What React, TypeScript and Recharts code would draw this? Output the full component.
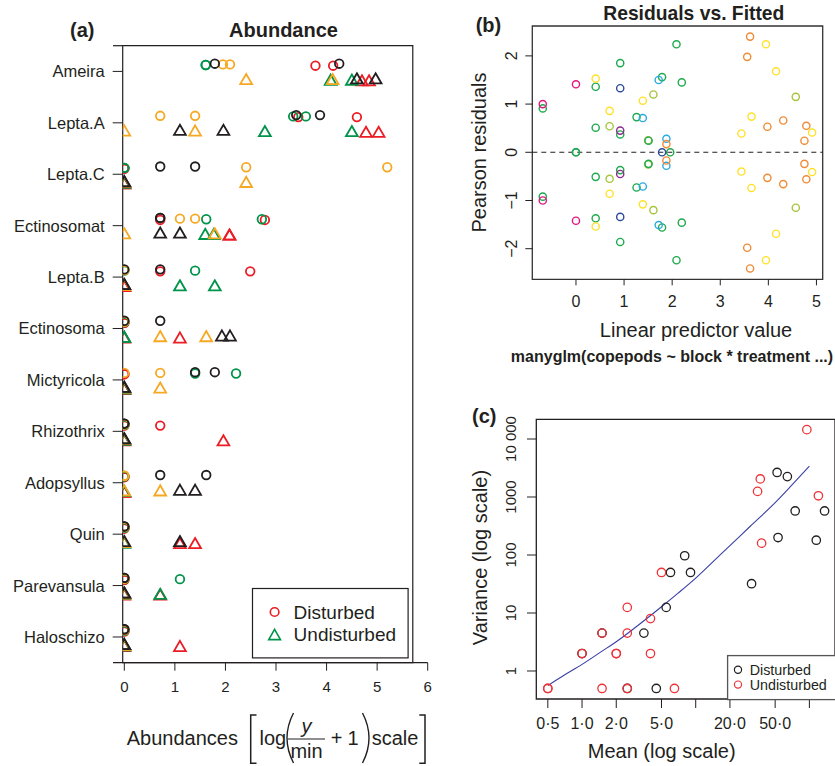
import React from 'react';
import { ScatterChart, ComposedChart, Scatter, Line, XAxis, YAxis, ReferenceLine, ReferenceArea, Legend } from 'recharts';

const FONT = '"Liberation Sans", Arial, Helvetica, sans-serif';
const INK = '#231F20';

// ---------------- (a) Abundance ----------------
const species = ['Ameira', 'Lepta.A', 'Lepta.C', 'Ectinosomat', 'Lepta.B', 'Ectinosoma', 'Mictyricola', 'Rhizothrix', 'Adopsyllus', 'Quin', 'Parevansula', 'Haloschizo'];
const speciesTicks = species.map((_, i) => i);
const abundanceTicks = [0, 1, 2, 3, 4, 5, 6];

// Disturbed (circles): two replicates per block colour, per species
const distRed = [[3.78, 4.13], [3.44, 4.6], [0, 0], [0.71, 2.78], [0.71, 2.49], [0, 0], [0, 0], [0.71, 0], [0, 0], [0, 0], [0, 0], [0, 0]];
const distGreen = [[1.61, 1.61], [3.34, 3.59], [0, 0], [1.62, 2.72], [1.4, 0], [0, 0], [1.4, 2.21], [0, 0], [0, 0], [0, 0], [1.1, 0], [0, 0]];
const distOrange = [[1.95, 2.09], [0.71, 1.4], [2.41, 5.2], [1.1, 1.4], [0, 0], [0, 0], [0.71, 0], [0, 0], [0, 0], [0, 0], [0, 0], [0, 0]];
const distBlack = [[1.79, 4.25], [3.4, 3.87], [0.71, 1.4], [0.71, 0.71], [0.71, 0], [0.71, 0], [1.4, 1.79], [0, 0], [0.71, 1.62], [0, 0], [0, 0], [0, 0]];
// Undisturbed (triangles)
const undRed = [[4.7, 4.84], [4.78, 5.03], [0, 0], [2.08, 2.08], [0, 0], [1.1, 0], [0, 0], [1.96, 0], [0, 0], [1.1, 1.4], [0.71, 0], [1.1, 0]];
const undGreen = [[4.08, 4.5], [2.78, 4.5], [0, 0], [1.6, 1.77], [1.1, 1.79], [0, 0], [0, 0], [0, 0], [0, 0], [0, 0], [0.71, 0], [0, 0]];
const undOrange = [[2.41, 4.12], [0, 1.4], [2.41, 0], [0, 1.79], [0, 0], [0.71, 1.62], [0.71, 0], [0, 0], [0.71, 0], [0, 0], [0, 0], [0, 0]];
const undBlack = [[4.6, 4.97], [1.1, 1.96], [0, 0], [0.71, 1.1], [0, 0], [1.93, 2.09], [0, 0], [0, 0], [1.1, 1.4], [1.1, 0], [0, 0], [0, 0]];

const BLOCK = { red: '#EC1C24', green: '#00934A', orange: '#F7A823', black: '#231F20' };

// ---------------- (b) Residuals vs fitted ----------------
const residYellowGreen = [[0.7, 0.54], [0.7, -0.55], [1.61, 1.2], [1.61, -1.2], [4.57, 1.15], [4.57, -1.15], [1.5, 0.25], [1.5, -0.25]];
const residGreen = [[-0.69, 0.91], [-0.69, -0.92], [0, 0], [0, 0], [0.41, 1.36], [0.41, 0.51], [0.41, -0.51], [0.41, -1.37], [0.92, 1.85], [0.92, 0.37], [0.92, -0.37], [0.92, -1.86], [1.26, 0.73], [1.26, -0.73], [1.51, 0.24], [1.51, -0.24], [1.79, 1.56], [1.79, -1.56], [1.96, 0], [2.09, 2.24], [2.09, -2.24], [2.2, 1.45], [2.2, -1.46]];
const residYellow = [[0.41, 1.53], [0.41, -1.54], [0.7, 0.86], [0.7, -0.86], [1.39, 1.07], [1.39, -1.08], [3.44, 0.39], [3.44, -0.4], [3.65, 0.74], [3.65, -0.74], [3.95, 2.24], [3.95, -2.24], [4.16, 1.68], [4.16, -1.69], [4.91, 0.41], [4.91, -0.41]];
const residCyan = [[1.39, 0.71], [1.39, -0.71], [1.72, 1.5], [1.72, -1.51], [1.88, 0.28], [1.88, -0.28]];
const residOrange = [[1.88, 0.17], [1.88, -0.17], [3.56, 1.98], [3.56, -1.98], [3.62, 2.4], [3.62, -2.41], [3.98, 0.53], [3.98, -0.53], [4.31, 0.66], [4.31, -0.66], [4.75, 0.24], [4.75, -0.24], [4.79, 0.55], [4.79, -0.56]];
const residDarkBlue = [[0.92, 1.33], [0.92, -1.34], [1.79, 0]];
const residPurple = [[0.92, 0.45], [0.92, -0.45]];
const residMagenta = [[-0.69, 1.0], [-0.69, -1.0], [0, 1.41], [0, -1.42]];
const fittedTicks = [0, 1, 2, 3, 4, 5];
const residTicks = [-2, -1, 0, 1, 2];

// ---------------- (c) Mean-variance ----------------
const meanVarDisturbed = [[1.0, 2.0], [1.5, 4.5], [2.5, 0.5], [3.5, 4.5], [4.5, 0.5], [5.5, 12.5], [6.0, 50], [8.0, 97], [9.0, 50], [31, 32], [52, 2650], [53, 200], [64, 2250], [75, 575], [115, 180], [136, 575]];
const meanVarUndisturbed = [[0.5, 0.5], [0.5, 0.5], [1.0, 2.0], [1.5, 4.5], [1.5, 0.5], [2.0, 2.0], [2.0, 2.0], [2.5, 12.5], [2.5, 4.5], [2.5, 0.5], [4.0, 8.0], [4.0, 2.0], [5.0, 50], [6.5, 0.5], [35, 1250], [37, 2050], [38, 160], [95, 14500], [120, 1050]];
const curveMean = [0.5, 0.7, 1, 1.5, 2, 3, 5, 7, 10, 15, 20, 30, 50, 70, 100];
const curveVar = [0.56, 0.85, 1.3, 2.2, 3.2, 5.8, 12.8, 22, 40, 85, 145, 310, 800, 1600, 3400];
const meanTicks = [0.5, 1, 2, 5, 10, 20, 50, 100];
const meanTickLabels = ['0·5', '1·0', '2·0', '5·0', '', '20·0', '50·0', ''];
const varTicks = [1, 10, 100, 1000, 10000];
const varTickLabels = ['1', '10', '100', '1000', '10 000'];

// ---------------- helpers ----------------
const toPts = (arr: number[][], off: number) => arr.flatMap((reps, i) => reps.map((v) => ({ x: v, y: i + off })));
const pairPts = (arr: number[][]) => arr.map(([x, y]) => ({ x, y }));

const ring = (color: string, r: number, sw: number, sink = 0) => (p: any) => (
  <circle cx={p.cx} cy={p.cy + sink} r={r} fill="none" stroke={color} strokeWidth={sw} />
);
const triPath = (x: number, y: number) => `M${x},${y - 5.6}L${x + 5.9},${y + 4.6}L${x - 5.9},${y + 4.6}Z`;
const tri = (color: string, sink = 0) => (p: any) => (
  <path d={triPath(p.cx, p.cy + sink)} fill="none" stroke={color} strokeWidth={1.8} />
);

const txt = (size: number, extra: any = {}) => ({ fontFamily: FONT, fontSize: size, fill: INK, ...extra });

const SpeciesTick = (p: any) => (
  <text x={p.x} y={p.y} dy="0.36em" textAnchor="end" {...txt(16.5)}>{species[p.payload.value]}</text>
);
const PlainXTick = (size: number, labels?: string[], ticks?: number[]) => (p: any) => {
  const v = p.payload.value;
  const label = labels && ticks ? labels[ticks.indexOf(v)] : String(v);
  return <text x={p.x} y={p.y} dy="0.71em" textAnchor="middle" {...txt(size)}>{label}</text>;
};
const RotYTick = (size: number, labels?: string[], ticks?: number[]) => (p: any) => {
  const v = p.payload.value;
  const label = labels && ticks ? labels[ticks.indexOf(v)] : (v < 0 ? '\u2212' + Math.abs(v) : String(v));
  return (
    <text x={p.x} y={p.y} transform={`rotate(-90 ${p.x} ${p.y})`} textAnchor="middle" {...txt(size)}>{label}</text>
  );
};

const LegendA = () => (
  <svg width={157} height={71} style={{ display: 'block', overflow: 'visible' }}>
    <rect x={0.5} y={0.5} width={155.6} height={69.4} fill="#fff" stroke={INK} strokeWidth={1.2} />
    <circle cx={22.6} cy={24} r={4.3} fill="none" stroke={BLOCK.red} strokeWidth={1.6} />
    <path d={triPath(22.6, 47)} fill="none" stroke={BLOCK.green} strokeWidth={1.6} />
    <text x={41.6} y={31} {...txt(19)}>Disturbed</text>
    <text x={41.6} y={53.4} {...txt(19)}>Undisturbed</text>
  </svg>
);

const RED_C = '#EE3338';
const LegendC = () => (
  <svg width={110} height={45} style={{ display: 'block', overflow: 'visible' }}>
    <rect x={0.6} y={0.6} width={115} height={44} fill="#fff" stroke="#555" strokeWidth={1.3} />
    <circle cx={11} cy={14.8} r={3.6} fill="none" stroke={INK} strokeWidth={1.2} />
    <circle cx={11} cy={29.6} r={3.6} fill="none" stroke={RED_C} strokeWidth={1.2} />
    <text x={22.7} y={19.8} {...txt(14.3)}>Disturbed</text>
    <text x={22.7} y={35.2} {...txt(14.3)}>Undisturbed</text>
  </svg>
);

const residSeries = [
  { data: residYellowGreen, color: '#A7C43C' },
  { data: residGreen, color: '#1EAA4E' },
  { data: residYellow, color: '#FFE12A' },
  { data: residCyan, color: '#2BAAE2' },
  { data: residOrange, color: '#F08B36' },
  { data: residDarkBlue, color: '#2C4B9B' },
  { data: residPurple, color: '#8F2A8E' },
  { data: residMagenta, color: '#E4177F' },
];

const abundSeries = [
  { data: toPts(distRed, -0.15), shape: ring(BLOCK.red, 4.3, 1.8, 2) },
  { data: toPts(distGreen, -0.15), shape: ring(BLOCK.green, 4.3, 1.8, 1.3) },
  { data: toPts(distOrange, -0.15), shape: ring(BLOCK.orange, 4.3, 1.8, 0.7) },
  { data: toPts(distBlack, -0.15), shape: ring(BLOCK.black, 4.3, 1.8, 0) },
  { data: toPts(undRed, 0.145), shape: tri(BLOCK.red, 2) },
  { data: toPts(undGreen, 0.145), shape: tri(BLOCK.green, 1.3) },
  { data: toPts(undOrange, 0.145), shape: tri(BLOCK.orange, 0.7) },
  { data: toPts(undBlack, 0.145), shape: tri(BLOCK.black, 0) },
];

const curvePts = curveMean.map((m, i) => ({ x: m, y: curveVar[i] }));

export default function App() {
  return (
    <div style={{ position: 'absolute', left: 0, top: 0, width: 835, height: 766, background: '#fff', overflow: 'hidden' }}>
      {/* Panel (a) */}
      <div style={{ position: 'absolute', left: 0, top: 0 }}>
        <ScatterChart width={440} height={766} margin={{ top: 45.7, right: 12.3, bottom: 73.3, left: 0 }}>
          <XAxis type="number" dataKey="x" domain={[-0.032, 6]} allowDataOverflow ticks={abundanceTicks} interval={0}
            tickSize={8} tickMargin={10.7} axisLine={false} tickLine={{ stroke: INK }} height={30} tick={PlainXTick(15)} />
          <YAxis type="number" dataKey="y" domain={[-0.5, 11.5]} allowDataOverflow reversed ticks={speciesTicks} interval={0}
            tickSize={10} tickMargin={8} width={122.7} axisLine={false} tickLine={{ stroke: INK }} tick={SpeciesTick} />
          <ReferenceArea x1={-0.032} x2={5.705} y1={-0.5} y2={11.5} fill="none" stroke={INK} strokeWidth={1.2} ifOverflow="visible" />
          <ReferenceLine segment={[{ x: -0.224, y: -0.5 }, { x: -0.032, y: -0.5 }]} stroke={INK} strokeWidth={1.2} ifOverflow="visible" />
          <ReferenceLine segment={[{ x: -0.224, y: 11.5 }, { x: 6, y: 11.5 }]} stroke={INK} strokeWidth={1.2} ifOverflow="visible" />
          {abundSeries.map((s, i) => (
            <Scatter key={i} data={s.data} shape={s.shape} isAnimationActive={false} />
          ))}
          <Legend layout="vertical" align="center" verticalAlign="middle" content={LegendA}
            wrapperStyle={{ left: 251.7, top: 588.3, width: 157, height: 71 }} />
        </ScatterChart>
      </div>

      {/* Panel (b) */}
      <div style={{ position: 'absolute', left: 460, top: 0 }}>
        <ScatterChart width={375} height={380} margin={{ top: 26, right: 12.3, bottom: 70.7, left: 0 }}>
          <XAxis type="number" dataKey="x" domain={[-0.908, 5.13]} allowDataOverflow ticks={fittedTicks} interval={0}
            tickSize={6} tickMargin={10.8} axisLine={false} tickLine={{ stroke: INK }} height={30} tick={PlainXTick(16)} />
          <YAxis type="number" dataKey="y" domain={[-2.635, 2.62]} allowDataOverflow ticks={residTicks} interval={0}
            tickSize={7} tickMargin={8.3} width={72.3} axisLine={false} tickLine={{ stroke: INK }} tick={RotYTick(16)} />
          <ReferenceArea x1={-0.908} x2={5.13} y1={-2.635} y2={2.62} fill="none" stroke="#333" strokeWidth={1.3} />
          <ReferenceLine y={0} stroke={INK} strokeWidth={1.1} strokeDasharray="5 4" />
          {residSeries.map((s, i) => (
            <Scatter key={i} data={pairPts(s.data)} shape={ring(s.color, 3.6, 1.4)} isAnimationActive={false} />
          ))}
        </ScatterChart>
      </div>

      {/* Panel (c) */}
      <div style={{ position: 'absolute', left: 460, top: 390 }}>
        <ComposedChart width={375} height={376} margin={{ top: 29.3, right: 0, bottom: 37, left: 0 }}>
          <XAxis type="number" dataKey="x" scale="log" domain={[0.396, 168]} allowDataOverflow ticks={meanTicks} interval={0}
            tickSize={9} tickMargin={9.7} axisLine={false} tickLine={{ stroke: INK }} height={30}
            tick={PlainXTick(16, meanTickLabels, meanTicks)} />
          <YAxis type="number" dataKey="y" scale="log" domain={[0.329, 21870]} allowDataOverflow ticks={varTicks} interval={0}
            tickSize={9.3} tickMargin={11.3} width={76.3} axisLine={false} tickLine={{ stroke: INK }}
            tick={RotYTick(15, varTickLabels, varTicks)} />
          <ReferenceArea x1={0.396} x2={168} y1={0.329} y2={21870} fill="none" stroke={INK} strokeWidth={1.3} />
          <Line data={curvePts} dataKey="y" type="monotone" stroke="#3A3FA6" strokeWidth={1.1} dot={false} activeDot={false} isAnimationActive={false} />
          <Scatter data={pairPts(meanVarDisturbed)} shape={ring(INK, 4.2, 1.3)} isAnimationActive={false} />
          <Scatter data={pairPts(meanVarUndisturbed)} shape={ring(RED_C, 4.2, 1.3)} isAnimationActive={false} />
          <Legend layout="vertical" align="center" verticalAlign="middle" content={LegendC}
            wrapperStyle={{ left: 267.3, top: 265, width: 110, height: 45 }} />
        </ComposedChart>
      </div>

      {/* Titles and axis labels */}
      <svg width={835} height={766} style={{ position: 'absolute', left: 0, top: 0, pointerEvents: 'none' }}>
        <text x={70} y={37.3} {...txt(20, { fontWeight: 'bold' })}>(a)</text>
        <text x={283.5} y={37.3} textAnchor="middle" {...txt(20, { fontWeight: 'bold' })}>Abundance</text>

        {/* Abundances [ log( y/min + 1 ) scale ] */}
        <text x={126.7} y={745} {...txt(20)}>Abundances</text>
        <path d="M256.5,715 L250.7,715 L250.7,763.3 L256.5,763.3" fill="none" stroke={INK} strokeWidth={1.5} />
        <text x={259.5} y={745} {...txt(20)}>log</text>
        <path d="M293.5,713 Q280.5,738 293.5,763" fill="none" stroke={INK} strokeWidth={1.4} />
        <text x={306.5} y={733} textAnchor="middle" {...txt(20, { fontStyle: 'italic' })}>y</text>
        <line x1={288} y1={739} x2={325} y2={739} stroke={INK} strokeWidth={1.2} />
        <text x={306.5} y={758} textAnchor="middle" {...txt(20)}>min</text>
        <text x={336.5} y={745} textAnchor="middle" {...txt(20)}>+</text>
        <text x={347.5} y={745} {...txt(20)}>1</text>
        <path d="M362.5,713 Q375.5,738 362.5,763" fill="none" stroke={INK} strokeWidth={1.4} />
        <text x={371.7} y={745} {...txt(20)}>scale</text>
        <path d="M419.3,715 L425,715 L425,763.3 L419.3,763.3" fill="none" stroke={INK} strokeWidth={1.5} />

        <text x={475.7} y={31.5} {...txt(20, { fontWeight: 'bold' })}>(b)</text>
        <text x={693.8} y={20} textAnchor="middle" {...txt(19.3, { fontWeight: 'bold' })}>Residuals vs. Fitted</text>
        <text x={486} y={152.5} transform="rotate(-90 486 152.5)" textAnchor="middle" {...txt(20)}>Pearson residuals</text>
        <text x={696} y={337} textAnchor="middle" {...txt(20)}>Linear predictor value</text>
        <text x={672} y={361.7} textAnchor="middle" {...txt(16, { fontWeight: 'bold' })}>manyglm(copepods ~ block * treatment ...)</text>

        <text x={472} y={423} {...txt(20, { fontWeight: 'bold' })}>(c)</text>
        <text x={486.7} y={557.5} transform="rotate(-90 486.7 557.5)" textAnchor="middle" {...txt(20)}>Variance (log scale)</text>
        <text x={661.7} y={758} textAnchor="middle" {...txt(20)}>Mean (log scale)</text>
      </svg>
    </div>
  );
}
